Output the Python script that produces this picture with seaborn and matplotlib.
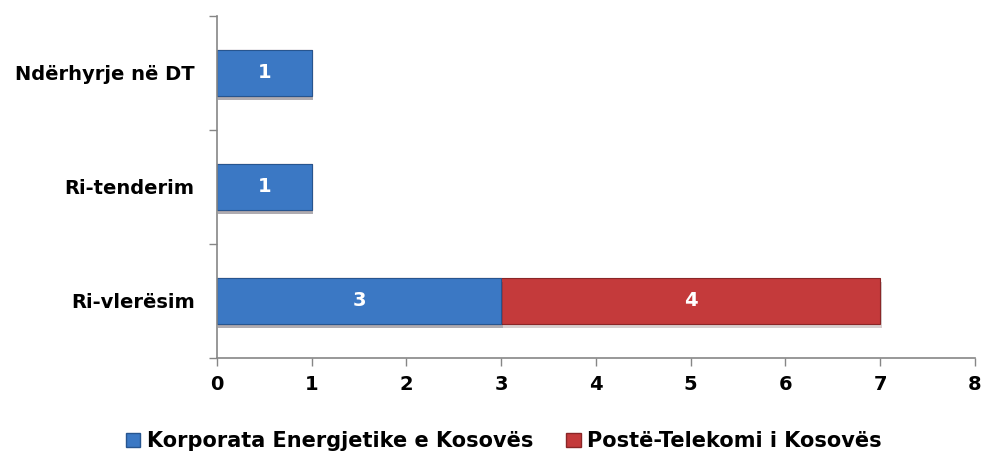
import numpy as np
import pandas as pd
import matplotlib
matplotlib.use("Agg")
import matplotlib.pyplot as plt
import seaborn as sns
from matplotlib.patches import Patch
from matplotlib import patheffects as pe

categories = ["Ndërhyrje në DT", "Ri-tenderim", "Ri-vlerësim"]
kek_values = [1, 1, 3]
ptk_values = [0, 0, 4]
series_names = ["Korporata Energjetike e Kosovës", "Postë-Telekomi i Kosovës"]
x_ticks = [0, 1, 2, 3, 4, 5, 6, 7, 8]

BLUE = "#3b78c4"
RED = "#c43a3b"
AXIS = "#868686"

sns.set_theme(style="white")
plt.rcParams["font.family"] = ["DejaVu Sans"]

df = pd.DataFrame({"cat": categories, "kek": kek_values, "ptk": ptk_values})
df["total"] = df["kek"] + df["ptk"]

fig = plt.figure(figsize=(9.88, 4.54), dpi=100)
ax = fig.add_axes([0.2196, 0.2115, 0.7672, 0.7533])

shadow = [pe.SimplePatchShadow(offset=(1, -3), alpha=0.2), pe.Normal()]

# stacked: total first (red part), then KEK over it
sns.barplot(data=df, y="cat", x="total", order=categories, color=RED,
            width=0.4, saturation=1, edgecolor="#8a2627", linewidth=0.8, ax=ax)
sns.barplot(data=df, y="cat", x="kek", order=categories, color=BLUE,
            width=0.4, saturation=1, edgecolor="#27558f", linewidth=0.8, ax=ax)
for p in ax.patches:
    p.set_path_effects(shadow)

for i, row in df.iterrows():
    if row["kek"] > 0:
        ax.text(row["kek"] / 2, i, str(row["kek"]), color="white",
                fontweight="bold", fontsize=14, ha="center", va="center")
    if row["ptk"] > 0:
        ax.text(row["kek"] + row["ptk"] / 2, i, str(row["ptk"]), color="white",
                fontweight="bold", fontsize=14, ha="center", va="center")

ax.set_xlim(0, 8)
ax.set_ylim(2.5, -0.5)
ax.set_xticks(x_ticks)
ax.set_xticklabels([str(t) for t in x_ticks], fontsize=14, fontweight="bold", color="black")
ax.set_yticks(range(len(categories)))
ax.set_yticklabels(categories, fontsize=14, fontweight="bold", color="black")
ax.set_yticks([-0.5, 0.5, 1.5, 2.5], minor=True)
ax.tick_params(axis="y", which="major", length=0, pad=16)
ax.tick_params(axis="y", which="minor", length=6, width=1, color=AXIS, direction="out", left=True)
ax.tick_params(axis="x", length=6, width=1, color=AXIS, direction="out", bottom=True, pad=6)
ax.set_xlabel("")
ax.set_ylabel("")
for s in ["top", "right"]:
    ax.spines[s].set_visible(False)
for s in ["left", "bottom"]:
    ax.spines[s].set_color(AXIS)
    ax.spines[s].set_linewidth(1.2)

handles = [Patch(facecolor=BLUE, edgecolor="#27558f"), Patch(facecolor=RED, edgecolor="#8a2627")]
fig.legend(handles, series_names, loc="lower center", bbox_to_anchor=(0.51, -0.035),
           ncol=2, frameon=False, handlelength=0.7, handleheight=0.7,
           handletextpad=0.3, columnspacing=1.6, labelcolor="black",
           prop={"size": 15, "weight": "bold"})

fig.savefig("out.png", dpi=100)
